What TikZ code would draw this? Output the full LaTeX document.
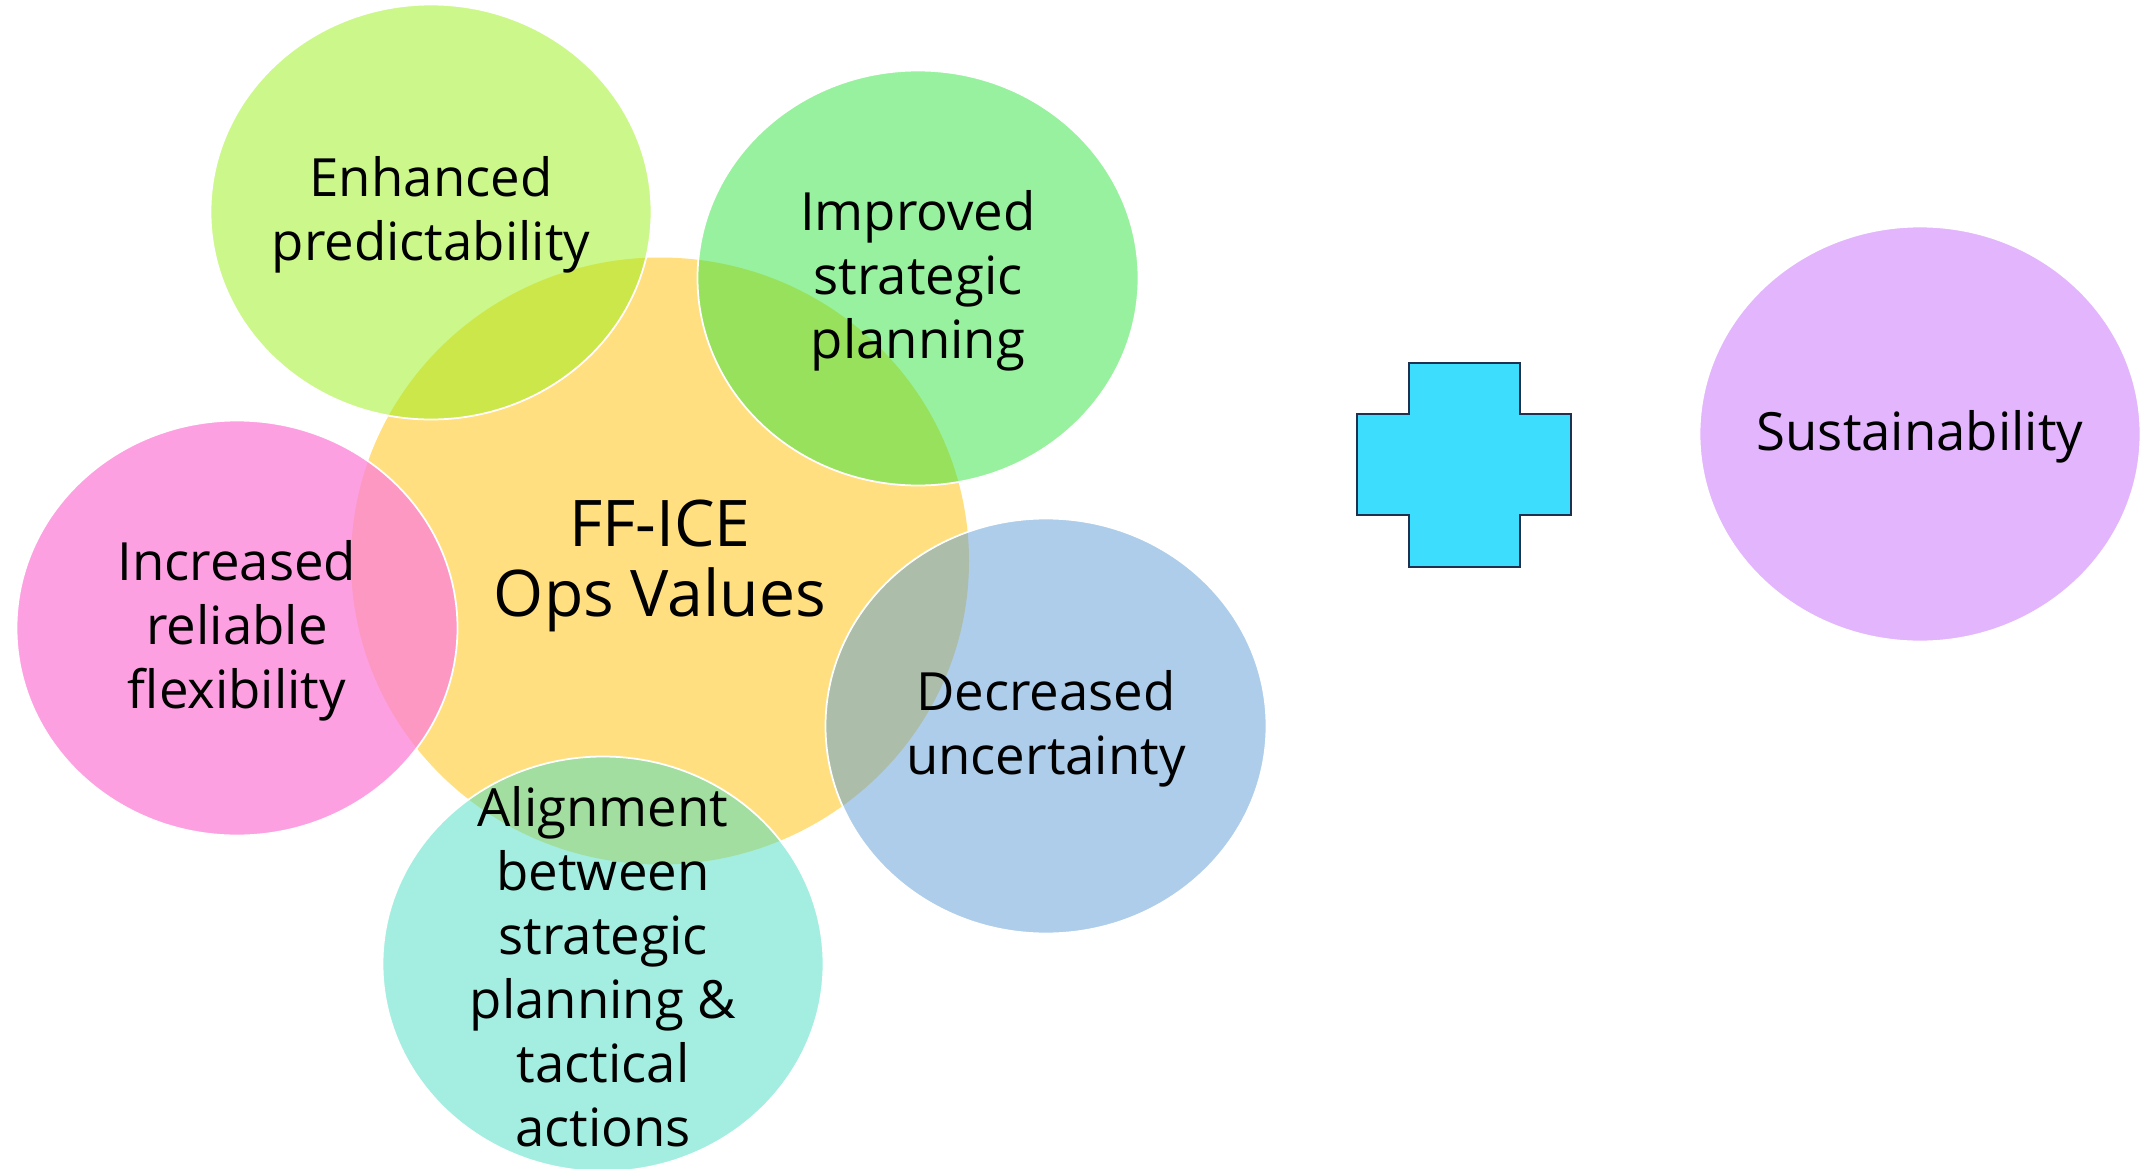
\documentclass[tikz,border=0pt]{standalone}
\usepackage{fontspec}
\setmainfont{Open Sans}
\usetikzlibrary{shapes.geometric}
\usetikzlibrary{positioning}

\definecolor{opsgold}{HTML}{FFC000}
\definecolor{predlime}{HTML}{99EF15}
\definecolor{plangreen}{HTML}{31E33D}
\definecolor{flexpink}{HTML}{FD82D8}
\definecolor{uncblue}{HTML}{5B9BD5}
\definecolor{aligteal}{HTML}{47DDC1}
\definecolor{sustlav}{HTML}{C76BF9}
\definecolor{pluscyan}{HTML}{3DDDFD}
\definecolor{plusnavy}{HTML}{1F3050}

\begin{document}
\begin{tikzpicture}[
    bubble/.style={ellipse, draw=white, line width=0.5pt, fill opacity=0.5,
      minimum width=4.41cm, minimum height=4.15cm, inner sep=0pt},
    bubbletext/.style={align=center, text=black, yshift=-0.8pt, font=\fontsize{15}{18.2}\selectfont}
  ]
    \useasboundingbox (0,0) rectangle (21.44,-11.69);

    % centre value
    \node[ellipse, fill=opsgold, fill opacity=0.5, minimum width=6.18cm, minimum height=6.07cm, inner sep=0pt] (ops) at (6.60,-5.61) {};

    % surrounding values
    \node[bubble, fill=predlime]  (pred) at (4.31,-2.12) {};
    \node[bubble, fill=plangreen] (plan) at (9.18,-2.78) {};
    \node[bubble, fill=flexpink, fill opacity=0.76] (flex) at (2.37,-6.28) {};
    \node[bubble, fill=uncblue]   (unc)  at (10.46,-7.26) {};
    \node[bubble, fill=aligteal]  (alig) at (6.03,-9.64) {};

    \node[bubbletext] (predtxt) at (pred) {Enhanced\\predictability};
    \node[bubbletext] (plantxt) at (plan) {Improved\\strategic\\planning};
    \node[bubbletext] (flextxt) at (flex) {Increased\\reliable\\flexibility};
    \node[bubbletext] (unctxt)  at (unc)  {Decreased\\uncertainty};
    \node[bubbletext] (aligtxt) at (alig) {Alignment\\between\\strategic\\planning \&\\tactical\\actions};
    \node[align=center, text=black, yshift=-1.5pt, font=\fontsize{18.3}{20}\selectfont] (opstxt) at (ops) {FF-ICE\\Ops Values};

    % plus sign
    \draw[fill=pluscyan, draw=plusnavy, line width=0.6pt]
      (14.09,-3.63) -- (15.20,-3.63) -- (15.20,-4.14) -- (15.71,-4.14) -- (15.71,-5.15)
      -- (15.20,-5.15) -- (15.20,-5.67) -- (14.09,-5.67) -- (14.09,-5.15) -- (13.57,-5.15)
      -- (13.57,-4.14) -- (14.09,-4.14) -- cycle;

    \node[bubble, fill=sustlav] (sust) at (19.20,-4.34) {};
    \node[bubbletext] (susttxt) at (sust) {Sustainability};
\end{tikzpicture}
\end{document}
